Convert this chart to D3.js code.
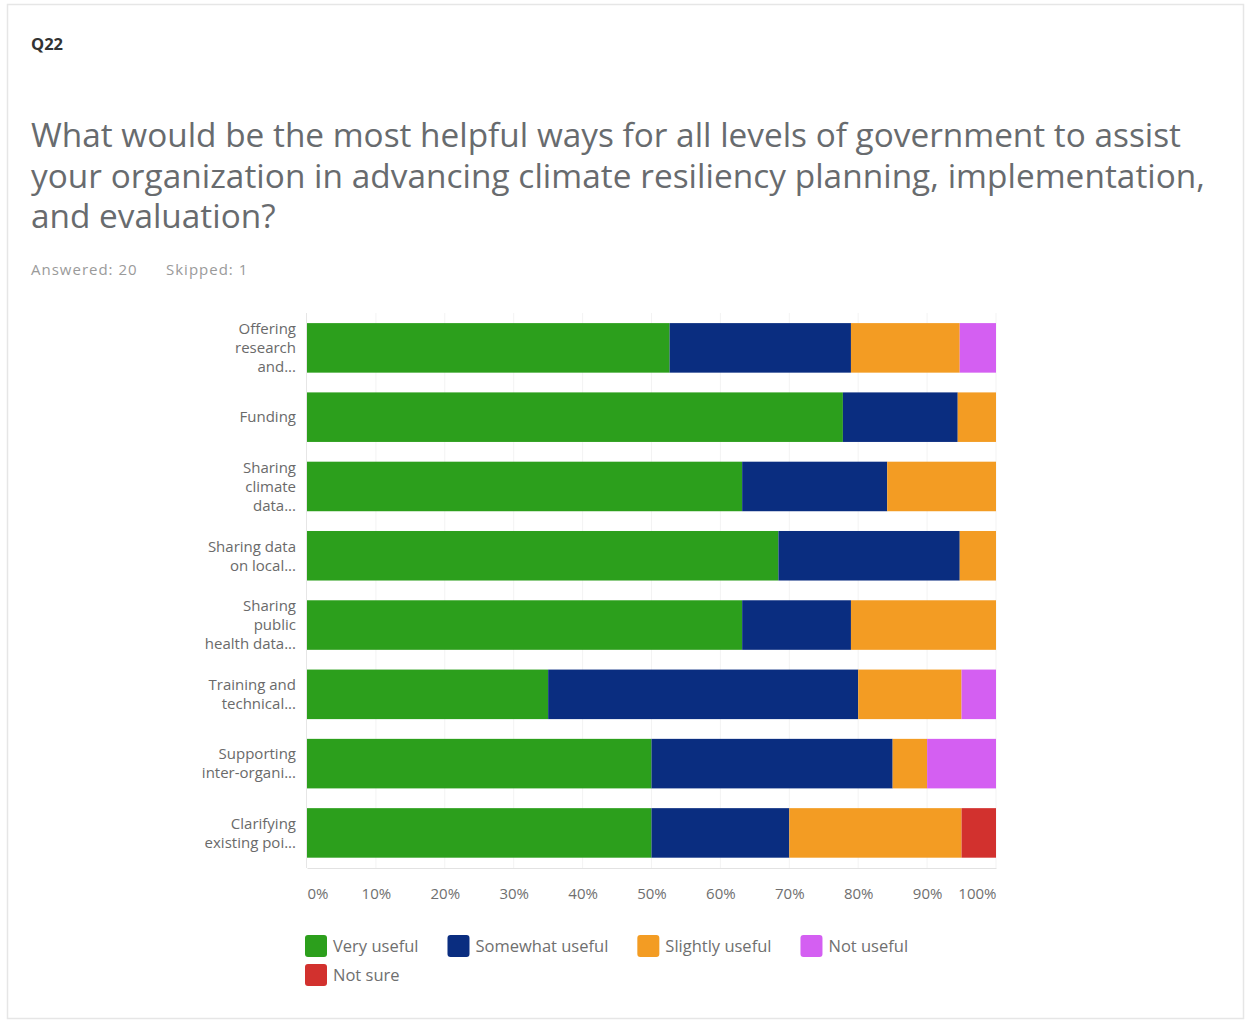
<!DOCTYPE html>
<html>
<head>
<meta charset="utf-8">
<script src="https://cdn.jsdelivr.net/npm/d3@7"></script>
<style>
  html, body { margin: 0; padding: 0; background: #ffffff; }
  svg { display: block; }
</style>
</head>
<body>
<svg id="chart" width="1251" height="1026"></svg>
<script>
// Q22 responses, counted per answer option for each form of assistance
const categories = [
  ["Offering", "research", "and..."],
  ["Funding"],
  ["Sharing", "climate", "data..."],
  ["Sharing data", "on local..."],
  ["Sharing", "public", "health data..."],
  ["Training and", "technical..."],
  ["Supporting", "inter-organi..."],
  ["Clarifying", "existing poi..."]
];
const seriesNames = ["Very useful", "Somewhat useful", "Slightly useful", "Not useful", "Not sure"];
const veryUseful     = [10, 14, 12, 13, 12, 7, 10, 10];
const somewhatUseful = [5, 3, 4, 5, 3, 9, 7, 4];
const slightlyUseful = [3, 1, 3, 1, 4, 3, 1, 5];
const notUseful      = [1, 0, 0, 0, 0, 1, 2, 0];
const notSure        = [0, 0, 0, 0, 0, 0, 0, 1];
const tickValues = [0, 0.1, 0.2, 0.3, 0.4, 0.5, 0.6, 0.7, 0.8, 0.9, 1];
const colors = ["#2c9f1c", "#0a2d80", "#f39c23", "#d45ff2", "#d2312e"];

const titleLines = [
  "What would be the most helpful ways for all levels of government to assist",
  "your organization in advancing climate resiliency planning, implementation,",
  "and evaluation?"
];

const FONT = "'Open Sans', 'Noto Sans', sans-serif";
const svg = d3.select("#chart");

// card frame
svg.append("rect")
  .attr("x", 7.5).attr("y", 4.5).attr("width", 1236).attr("height", 1014)
  .attr("fill", "#ffffff").attr("stroke", "#e6e6e6").attr("stroke-width", 1.5);

svg.append("text")
  .attr("x", 31).attr("y", 50)
  .attr("font-family", FONT)
  .attr("font-weight", 700).attr("font-size", 16.5).attr("fill", "#333")
  .text("Q22");

// title, sized so the first line spans the card text width
const titleWidths = [1150, 1174, null];
const title = svg.append("g")
  .attr("font-family", FONT)
  .attr("fill", "#686b6e");
const tLines = title.selectAll("text").data(titleLines).join("text")
  .attr("x", 31)
  .attr("y", (d, i) => 147 + i * 40.5)
  .attr("font-size", 32)
  .text(d => d);
const w0 = tLines.node().getComputedTextLength();
const fs = 32 * 1150 / w0;
tLines.attr("font-size", fs);
tLines.each(function(d, i) {
  if (titleWidths[i]) d3.select(this).attr("textLength", titleWidths[i]).attr("lengthAdjust", "spacing");
});

const meta = svg.append("g")
  .attr("font-family", FONT)
  .attr("font-size", 15).attr("fill", "#9a9a9a")
  .attr("letter-spacing", 1);
meta.append("text").attr("x", 31).attr("y", 275).text("Answered: 20");
meta.append("text").attr("x", 166).attr("y", 275).text("Skipped: 1");

// stacked shares
const series = [veryUseful, somewhatUseful, slightlyUseful, notUseful, notSure];
const rows = categories.map((c, i) => {
  const counts = series.map(s => s[i]);
  const total = d3.sum(counts);
  const row = { key: i };
  seriesNames.forEach((n, k) => row[n] = counts[k] / total);
  return row;
});
const stacked = d3.stack().keys(seriesNames)(rows);

const x = d3.scaleLinear().domain([0, 1]).range([307, 996]);
const y = d3.scaleBand()
  .domain(d3.range(categories.length))
  .range([313.2, 867.6])
  .paddingInner(0.285)
  .paddingOuter(0.143);

// grid and frame lines
svg.append("g").selectAll("line").data(tickValues.slice(1)).join("line")
  .attr("x1", d => x(d)).attr("x2", d => x(d))
  .attr("y1", 313).attr("y2", 868)
  .attr("stroke", "#f3f3f3").attr("stroke-width", 1);
svg.append("line")
  .attr("x1", 306.5).attr("x2", 306.5).attr("y1", 313).attr("y2", 868)
  .attr("stroke", "#e6e6e6");

svg.append("g").selectAll("g").data(stacked).join("g")
  .attr("fill", (d, k) => colors[k])
  .selectAll("rect").data(d => d).join("rect")
  .attr("x", d => x(d[0]))
  .attr("width", d => Math.max(0, x(d[1]) - x(d[0])))
  .attr("y", (d, i) => y(i))
  .attr("height", y.bandwidth());

// bottom axis
const xAxis = d3.axisBottom(x).tickValues(tickValues)
  .tickFormat(d => Math.round(d * 100) + "%")
  .tickSize(0).tickPadding(20);
const ax = svg.append("g").attr("transform", "translate(0,868)").call(xAxis);
ax.select(".domain").attr("stroke", "#e2e2e2");
ax.selectAll("text")
  .attr("font-family", FONT)
  .attr("font-size", 15).attr("fill", "#6f6f6f")
  .attr("text-anchor", d => d === 0 ? "start" : d === 1 ? "end" : "middle");

// category labels
const lab = svg.append("g")
  .attr("font-family", FONT)
  .attr("font-size", 15).attr("fill", "#6a6a6a")
  .attr("text-anchor", "end");
categories.forEach((lines, i) => {
  const cy = y(i) + y.bandwidth() / 2;
  const lh = 19;
  const t = lab.append("text").attr("x", 296);
  lines.forEach((ln, j) => {
    t.append("tspan")
      .attr("x", 296)
      .attr("y", cy + (j - (lines.length - 1) / 2) * lh)
      .attr("dy", "0.35em")
      .text(ln);
  });
});

// legend with wrapping
const leg = svg.append("g")
  .attr("font-family", FONT)
  .attr("font-size", 16.5).attr("fill", "#6f6f6f");
let lx = 305, ly = 935;
seriesNames.forEach((n, k) => {
  const item = leg.append("g");
  item.append("rect").attr("width", 22).attr("height", 22).attr("rx", 3)
    .attr("fill", colors[k]);
  const t = item.append("text").attr("x", 28).attr("y", 11).attr("dy", "0.35em").text(n);
  const w = 28 + t.node().getComputedTextLength();
  if (lx + w > 996 && lx > 305) { lx = 305; ly += 29; }
  item.attr("transform", `translate(${lx},${ly})`);
  lx += w + 29;
});
</script>
</body>
</html>
